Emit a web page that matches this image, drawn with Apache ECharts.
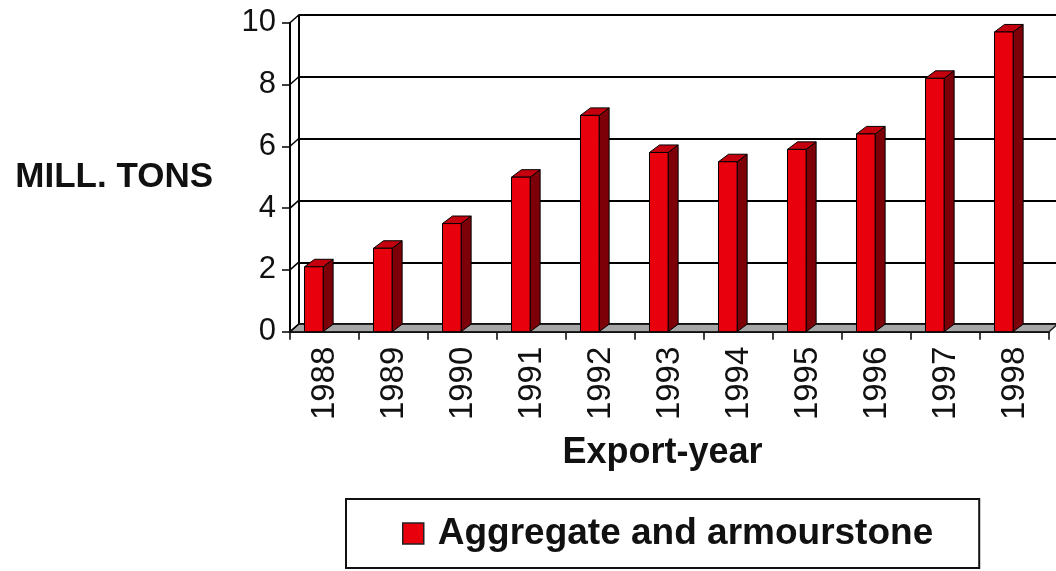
<!DOCTYPE html>
<html>
<head>
<meta charset="utf-8">
<script src="https://cdn.jsdelivr.net/npm/echarts@6/dist/echarts.min.js"></script>
<style>
html,body{margin:0;padding:0;background:#fff;}
#chart{width:1056px;height:571px;}
</style>
</head>
<body>
<div id="chart"></div>
<script>
// ---- data ----
const categories = ['1988','1989','1990','1991','1992','1993','1994','1995','1996','1997','1998'];
const exportValues = [2.1, 2.7, 3.5, 5.0, 7.0, 5.8, 5.5, 5.9, 6.4, 8.2, 9.7];
const yTicks = [0, 2, 4, 6, 8, 10];
const seriesName = 'Aggregate and armourstone';
const yAxisTitle = 'MILL. TONS';
const xAxisTitle = 'Export-year';

// ---- layout / style ----
const FONT = "'Liberation Sans', Arial, sans-serif";
const FRONT = {left: 290, top: 22.7, width: 759, height: 309};
const DX = 8.5, DY = -7.5;           // 3D depth offset of the back wall
const BACK = {left: FRONT.left + DX, top: FRONT.top + DY, width: FRONT.width, height: FRONT.height};

const chart = echarts.init(document.getElementById('chart'), null, {renderer: 'canvas'});

function renderBar(params, api) {
  const x = api.value(0), v = api.value(1);
  const base = api.coord([x, 0]);
  const top = api.coord([x, v]);
  const bw = api.size([1, 0])[0];
  const left = base[0] - bw * 0.29;
  const w = bw * 0.27;
  const dx = bw * 0.145, dy = -bw * 0.109;
  const ty = top[1], by = base[1];
  const stroke = {stroke: '#000', lineWidth: 1};
  return {
    type: 'group',
    children: [
      {type: 'polygon', shape: {points: [[left + w, ty], [left + w + dx, ty + dy], [left + w + dx, by + dy], [left + w, by]]},
       style: Object.assign({fill: '#7d0008'}, stroke)},
      {type: 'polygon', shape: {points: [[left, ty], [left + dx, ty + dy], [left + w + dx, ty + dy], [left + w, ty]]},
       style: Object.assign({fill: '#c4000f'}, stroke)},
      {type: 'rect', shape: {x: left, y: ty, width: w, height: by - ty},
       style: Object.assign({fill: '#e8000c'}, stroke)}
    ]
  };
}

function renderFloor(params, api) {
  const cs = params.coordSys;
  const fy = cs.y + cs.height;
  const children = [
    {type: 'polygon', shape: {points: [[cs.x, fy], [cs.x + cs.width, fy], [cs.x + cs.width + DX, fy + DY], [cs.x + DX, fy + DY]]},
     style: {fill: '#a6a6a6', stroke: '#222', lineWidth: 1.5}}
  ];
  yTicks.forEach(function (t) {
    const p = api.coord([0, t]);
    children.push({type: 'line', shape: {x1: cs.x, y1: p[1], x2: cs.x + DX, y2: p[1] + DY},
      style: {stroke: '#000', lineWidth: 1.5}});
  });
  return {type: 'group', children: children};
}

const option = {
  backgroundColor: '#ffffff',
  animation: false,
  grid: [
    {left: FRONT.left, top: FRONT.top, width: FRONT.width, height: FRONT.height, containLabel: false},
    {left: BACK.left, top: BACK.top, width: BACK.width, height: BACK.height, containLabel: false}
  ],
  xAxis: [
    {
      type: 'category', gridIndex: 0, data: categories,
      axisLine: {show: true, lineStyle: {color: '#000', width: 2}},
      axisTick: {show: true, length: 8, lineStyle: {color: '#000', width: 1.5}},
      axisLabel: {rotate: 90, fontSize: 33, fontFamily: FONT, color: '#111', margin: 15},
      name: xAxisTitle, nameLocation: 'middle', nameGap: 103,
      nameTextStyle: {fontSize: 36, fontWeight: 'bold', fontFamily: FONT, color: '#111', padding: [0, 14, 0, 0]}
    },
    {
      type: 'category', gridIndex: 1, data: categories, show: false
    }
  ],
  yAxis: [
    {
      type: 'value', gridIndex: 0, min: 0, max: 10, interval: 2,
      axisLine: {show: true, lineStyle: {color: '#000', width: 2}},
      axisTick: {show: true, length: 8, lineStyle: {color: '#000', width: 1.5}},
      axisLabel: {fontSize: 31, fontFamily: FONT, color: '#111', margin: 14},
      splitLine: {show: false},
      name: yAxisTitle, nameLocation: 'middle', nameRotate: 0, nameGap: 77,
      nameTextStyle: {fontSize: 35, fontWeight: 'bold', fontFamily: FONT, color: '#111', align: 'right'}
    },
    {
      type: 'value', gridIndex: 1, min: 0, max: 10, interval: 2,
      axisLine: {show: true, lineStyle: {color: '#000', width: 2}},
      axisTick: {show: false},
      axisLabel: {show: false},
      splitLine: {show: true, lineStyle: {color: '#000', width: 2}}
    }
  ],
  legend: {
    left: 346, top: 499,
    padding: [16, 46, 16, 56],
    borderColor: '#111', borderWidth: 2,
    itemWidth: 21, itemHeight: 21, itemGap: 10,
    icon: 'rect',
    textStyle: {fontSize: 37, lineHeight: 37, fontWeight: 'bold', fontFamily: FONT, color: '#111', padding: [0, 0, 0, 9]},
    data: [{name: seriesName, itemStyle: {color: '#e8000c', borderColor: '#222', borderWidth: 1.5}}]
  },
  series: [
    {
      type: 'custom', name: 'floor', xAxisIndex: 0, yAxisIndex: 0, z: 1,
      renderItem: renderFloor, data: [[0, 0]], silent: true
    },
    {
      type: 'custom', name: seriesName, xAxisIndex: 0, yAxisIndex: 0, z: 3,
      itemStyle: {color: '#e8000c'},
      renderItem: renderBar,
      encode: {x: 0, y: 1},
      data: categories.map(function (c, i) { return [i, exportValues[i]]; })
    }
  ]
};
chart.setOption(option);
</script>
</body>
</html>
